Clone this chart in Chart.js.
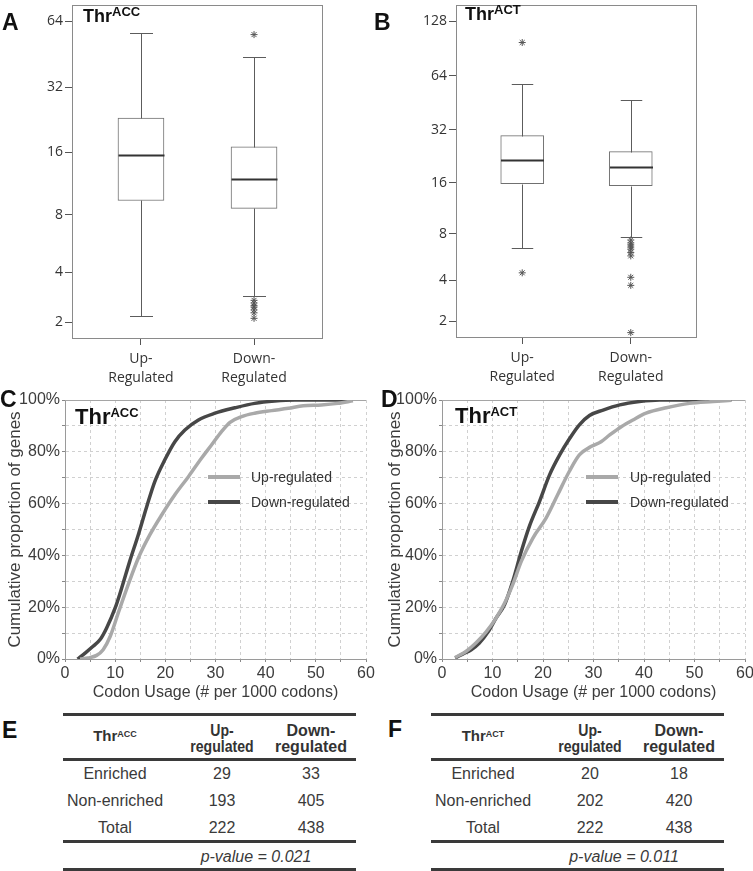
<!DOCTYPE html>
<html>
<head>
<meta charset="utf-8">
<script src="https://cdn.jsdelivr.net/npm/chart.js@4.4.1/dist/chart.umd.min.js"></script>
<style>
  html, body { margin: 0; padding: 0; background: #fff; }
  #page { position: relative; width: 753px; height: 871px; overflow: hidden;
          font-family: 'Liberation Sans', Arial, sans-serif; color: #333; }
  canvas { position: absolute; }
  .t { position: absolute; white-space: nowrap; line-height: 1; }
  .sup { position: relative; font-weight: bold; }
  .rule { position: absolute; height: 3px; background: #3a3a3a; }
  .leg { position: absolute; height: 4px; }
</style>
</head>
<body>
<div id="page">
  <canvas id="boxA" width="345" height="395" style="left:0;top:0"></canvas>
  <canvas id="boxB" width="373" height="395" style="left:380px;top:0"></canvas>
  <canvas id="cdfC" width="380" height="325" style="left:0;top:385px"></canvas>
  <canvas id="cdfD" width="373" height="325" style="left:380px;top:385px"></canvas>
</div>
<script>
'use strict';

// Boxplots A/B: je Kategorie [Up, Down]
const boxCats = [['Up-', 'Regulated'], ['Down-', 'Regulated']];

const ticksA = [2, 4, 8, 16, 32, 64];
const minA = [2.2, 2.93];
const q1A = [9.4, 8.6];
const medA = [15.6, 11.9];
const q3A = [23.1, 17.0];
const maxA = [56.6, 43.9];
const outUpA = [];
const outDownA = [55.6, 2.75, 2.65, 2.55, 2.5, 2.4, 2.3, 2.12];

const ticksB = [2, 4, 8, 16, 32, 64, 128];
const minB = [6.5, 7.6];
const q1B = [15.8, 15.4];
const medB = [21.6, 19.7];
const q3B = [29.7, 24.1];
const maxB = [57.8, 47.2];
const outUpB = [97.6, 4.5];
const outDownB = [7.3, 7.0, 6.8, 6.6, 6.4, 6.1, 5.8, 4.2, 3.7, 1.6];

// Kumulative Kurven C/D (x = Codon Usage, y = %)
const cUpX = [3.0, 4.6, 6.3, 7.6, 9.0, 10.6, 12.6, 14.6, 16.9, 19.3, 21.9, 24.6, 27.2, 29.2, 31.2, 32.9, 35.2, 37.8, 41.2, 44.5, 47.5, 51.1, 54.4, 57.4];
const cUpY = [0, 0.4, 1.4, 3.6, 8.7, 17.7, 28.7, 38.9, 47.9, 55.7, 63.4, 70.4, 77.5, 82.6, 87.8, 91.4, 93.6, 94.9, 95.9, 96.8, 97.8, 98.1, 98.7, 99.7];
const cDownX = [2.5, 4.0, 5.6, 7.0, 8.3, 10.0, 11.3, 12.9, 14.6, 16.3, 17.9, 19.9, 21.9, 23.9, 26.6, 29.9, 33.9, 37.8, 41.8, 45.8, 57.4];
const cDownY = [0, 2.3, 4.9, 7.5, 12, 19.7, 27.4, 37.7, 47.9, 58.9, 68.5, 76.9, 83.9, 88.4, 92.3, 94.9, 97.0, 98.7, 99.6, 100, 100];

const dUpX = [2.6, 4.8, 6.7, 8.7, 10.7, 12.4, 14.0, 15.7, 18.0, 20.6, 22.9, 25.2, 27.2, 29.5, 31.5, 33.2, 35.5, 37.8, 40.4, 44.4, 49.0, 53.7, 57.3];
const dUpY = [0.6, 3.0, 6.2, 10.4, 15.8, 21.6, 28.7, 37.7, 46.7, 54.4, 63.4, 72.4, 78.8, 82, 83.9, 86.5, 89.7, 92.3, 94.9, 97, 98.7, 99.4, 99.9];
const dDownX = [2.6, 4.1, 5.8, 7.4, 9.1, 10.7, 12.4, 14.0, 15.7, 17.3, 19.3, 21.3, 23.3, 25.3, 27.2, 29.2, 31.9, 35.2, 39.1, 43.1, 57.3];
const dDownY = [0.4, 1.9, 3.6, 6.2, 10.4, 15.8, 21, 29.9, 41.5, 51.2, 60.8, 71.1, 78.8, 85.2, 90.4, 94, 96.1, 98.1, 99.4, 100, 100];

// Tabellen E/F
const rowLabels = ['Enriched', 'Non-enriched', 'Total'];
const upE = [29, 193, 222];
const downE = [33, 405, 438];
const pE = '0.021';
const upF = [20, 202, 222];
const downF = [18, 420, 438];
const pF = '0.011';

const page = document.getElementById('page');

// Achse im Original ist log(x+1)
const T = v => Math.log2(v + 1);

function put(html, x, y, css, align, sx) {
  const el = document.createElement('div');
  el.className = 't';
  el.innerHTML = html;
  el.style.cssText = `left:${x}px;top:${y}px;` + (css || '');
  const tx = align === 'left' ? '0' : '-50%';
  el.style.transform = `translate(${tx},-50%)` + (sx ? ` scaleX(${sx})` : '');
  page.appendChild(el);
  return el;
}

const thr = (code, supSize, raise) =>
  `<b>Thr</b><span class="sup" style="font-size:${supSize}px;top:-${raise}px">${code}</span>`;

function boxChart(id, stats, outliers, tickVals, yRange, area) {
  const [mins, q1s, meds, q3s, maxs] = stats;

  const whiskers = {
    id: 'whiskers',
    afterDatasetsDraw(chart) {
      const { ctx, chartArea: a } = chart;
      const { x, y } = chart.scales;
      const py = v => Math.round(y.getPixelForValue(T(v))) + 0.5;
      ctx.save();
      boxCats.forEach((c, i) => {
        const px = Math.round(x.getPixelForValue(i + 1)) + 0.5;
        const half = area.boxW / 2;
        const cap = area.boxW / 4;
        ctx.strokeStyle = '#5c5c5c';
        ctx.lineWidth = 1;
        ctx.beginPath();
        ctx.moveTo(px, py(q3s[i]));
        ctx.lineTo(px, py(maxs[i]));
        ctx.moveTo(px, py(q1s[i]));
        ctx.lineTo(px, py(mins[i]));
        ctx.moveTo(px - cap, py(maxs[i]));
        ctx.lineTo(px + cap, py(maxs[i]));
        ctx.moveTo(px - cap, py(mins[i]));
        ctx.lineTo(px + cap, py(mins[i]));
        ctx.stroke();
        ctx.strokeStyle = '#333';
        ctx.lineWidth = 2;
        ctx.beginPath();
        ctx.moveTo(px - half, py(meds[i]));
        ctx.lineTo(px + half, py(meds[i]));
        ctx.stroke();
      });
      ctx.strokeStyle = '#8a8a8a';
      ctx.lineWidth = 1;
      ctx.strokeRect(a.left + 0.5, a.top + 0.5, a.right - a.left - 1, a.bottom - a.top - 1);
      ctx.restore();
    },
  };

  return new Chart(document.getElementById(id), {
    type: 'bar',
    data: {
      datasets: [
        {
          data: boxCats.map((c, i) => ({ x: i + 1, y: [T(q1s[i]), T(q3s[i])] })),
          backgroundColor: '#fff',
          borderColor: '#707070',
          borderWidth: 1,
          borderSkipped: false,
          barThickness: area.boxW,
        },
        {
          type: 'scatter',
          data: outliers.flatMap((vals, i) => vals.map(v => ({ x: i + 1, y: T(v) }))),
          pointStyle: 'star',
          pointRadius: 3.5,
          pointBorderColor: '#555',
          pointBorderWidth: 1,
        },
      ],
    },
    options: {
      responsive: false,
      animation: false,
      layout: { padding: { left: 0, right: area.padRight, top: area.top, bottom: 0 } },
      plugins: { legend: { display: false }, tooltip: { enabled: false } },
      scales: {
        x: {
          type: 'linear',
          min: 0.39,
          max: 2.61,
          offset: false,
          afterBuildTicks: s => {
            s.ticks = boxCats.map((c, i) => ({ value: i + 1 }));
          },
          afterFit: s => {
            s.height = area.xH;
            s.paddingLeft = 0;
            s.paddingRight = 0;
          },
          grid: { drawOnChartArea: false, offset: false, tickLength: 6, tickColor: '#555' },
          border: { display: false },
          ticks: {
            callback: (v, i) => boxCats[i],
            color: '#333',
            font: { family: 'Open Sans', size: 14, lineHeight: 1.35 },
            padding: 5,
            maxRotation: 0,
            autoSkip: false,
          },
        },
        y: {
          type: 'linear',
          min: yRange[0],
          max: yRange[1],
          beginAtZero: false,
          afterBuildTicks: s => {
            s.ticks = tickVals.map(v => ({ value: T(v) }));
          },
          afterFit: s => {
            s.width = area.yW;
            s.paddingTop = 0;
            s.paddingBottom = 0;
          },
          grid: { drawOnChartArea: false, tickLength: 7, tickColor: '#555' },
          border: { display: false },
          ticks: {
            callback: (v, i) => String(tickVals[i]),
            color: '#333',
            font: { family: 'Open Sans', size: 14 },
            padding: 2,
            autoSkip: false,
          },
        },
      },
    },
    plugins: [whiskers],
  });
}

function cdfChart(id, upX, upY, downX, downY, area) {
  const pts = (xs, ys) => xs.map((x, i) => ({ x, y: ys[i] }));
  const topLine = {
    id: 'topLine',
    beforeDatasetsDraw(chart) {
      const { ctx, chartArea: a } = chart;
      ctx.save();
      ctx.strokeStyle = '#a5a5a5';
      ctx.lineWidth = 1;
      ctx.beginPath();
      ctx.moveTo(a.left, a.top + 0.5);
      ctx.lineTo(a.right, a.top + 0.5);
      ctx.stroke();
      ctx.restore();
    },
  };
  const tickFont = { family: 'Liberation Sans', size: 16 };

  return new Chart(document.getElementById(id), {
    type: 'line',
    data: {
      datasets: [
        {
          label: 'Up-regulated',
          data: pts(upX, upY),
          borderColor: '#a9a9a9',
          borderWidth: 3.5,
          pointRadius: 0,
          cubicInterpolationMode: 'monotone',
        },
        {
          label: 'Down-regulated',
          data: pts(downX, downY),
          borderColor: '#474747',
          borderWidth: 3.5,
          pointRadius: 0,
          cubicInterpolationMode: 'monotone',
        },
      ],
    },
    options: {
      responsive: false,
      animation: false,
      layout: { padding: { left: 0, right: area.padRight, top: area.top, bottom: 0 } },
      plugins: { legend: { display: false }, tooltip: { enabled: false } },
      scales: {
        x: {
          type: 'linear',
          min: 0,
          max: 60,
          afterFit: s => {
            s.height = area.xH;
            s.paddingLeft = 0;
            s.paddingRight = 0;
          },
          ticks: {
            stepSize: 5,
            autoSkip: false,
            maxRotation: 0,
            callback: v => (v % 10 === 0 ? String(v) : ''),
            color: '#3c3c3c',
            font: tickFont,
            padding: 2,
          },
          grid: { color: '#d0d0d0', tickColor: '#888', tickLength: 3 },
          border: { color: '#9a9a9a', dash: [3, 3] },
          title: {
            display: true,
            text: 'Codon Usage (# per 1000 codons)',
            color: '#3c3c3c',
            font: { family: 'Liberation Sans', size: 16 },
            padding: { top: 4, bottom: 8 },
          },
        },
        y: {
          min: 0,
          max: 100,
          afterFit: s => {
            s.width = area.yW;
            s.paddingTop = 0;
            s.paddingBottom = 0;
          },
          ticks: {
            stepSize: 10,
            autoSkip: false,
            callback: v => (v % 20 === 0 ? v + '%' : ''),
            color: '#3c3c3c',
            font: tickFont,
            padding: 2,
          },
          grid: { color: '#d0d0d0', tickColor: '#888', tickLength: 3 },
          border: { color: '#9a9a9a', dash: [3, 3] },
          title: {
            display: true,
            text: 'Cumulative proportion of genes',
            color: '#3c3c3c',
            font: { family: 'Liberation Sans', size: 17 },
            padding: { top: 5, bottom: 4 },
          },
        },
      },
    },
    plugins: [topLine],
  });
}

function legend(x, yUp, yDown, textX) {
  [[yUp, '#a9a9a9', 'Up-regulated'], [yDown, '#474747', 'Down-regulated']].forEach(([y, col, txt]) => {
    const l = document.createElement('div');
    l.className = 'leg';
    l.style.cssText = `left:${x}px;top:${y - 2}px;width:32px;background:${col}`;
    page.appendChild(l);
    put(txt, textX, y, 'font-size:14px;color:#333', 'left');
  });
}

function table(x0, code, up, down, p) {
  const col = [x0 + 52, x0 + 159, x0 + 248];
  [714.3, 759.3, 841.7, 869.3].forEach(y => {
    const r = document.createElement('div');
    r.className = 'rule';
    r.style.cssText = `left:${x0}px;top:${Math.round(y - 1.5)}px;width:293px`;
    page.appendChild(r);
  });
  const head = 'font-weight:bold;font-size:16px;color:#333';
  const body = 'font-size:16px;color:#3a3a3a';
  put(thr(code, 9, 4), col[0], 735, 'font-size:15px;color:#333');
  put('Up-', col[1], 730.7, head, null, 0.88);
  put('regulated', col[1], 747, head, null, 0.88);
  put('Down-', col[2], 730.7, head);
  put('regulated', col[2], 747, head);
  const rowY = [774.3, 801, 828.3];
  rowLabels.forEach((r, i) => {
    put(r, col[0], rowY[i], body);
    put(String(up[i]), col[1], rowY[i], body);
    put(String(down[i]), col[2], rowY[i], body);
  });
  put(`<i>p-value = ${p}</i>`, x0 + 193, 856.7, body);
}

boxChart('boxA', [minA, q1A, medA, q3A, maxA], [outUpA, outDownA], ticksA, [1.337, 6.259],
  { top: 1, padRight: 22, yW: 72, xH: 56, boxW: 46 });
boxChart('boxB', [minB, q1B, medB, q3B, maxB], [outUpB, outDownB], ticksB, [1.281, 7.302],
  { top: 1, padRight: 56, yW: 76, xH: 57, boxW: 43 });
cdfChart('cdfC', cUpX, cUpY, cDownX, cDownY, { top: 15, padRight: 14, yW: 65, xH: 51 });
cdfChart('cdfD', dUpX, dUpY, dDownX, dDownY, { top: 15, padRight: 8, yW: 62, xH: 51 });

// Panel-Buchstaben und Titel
const letter = 'font-weight:bold;font-size:23px;color:#111';
put('A', 2, 21.5, letter, 'left');
put('B', 374, 21.5, letter, 'left');
put('C', 0, 399, letter, 'left');
put('D', 381, 399, letter, 'left');
put('E', 2, 730, letter, 'left');
put('F', 388, 728.5, letter, 'left');

put(thr('ACC', 13, 6), 83, 16, 'font-size:18px;color:#111', 'left');
put(thr('ACT', 13, 6), 465, 13.5, 'font-size:18px;color:#111', 'left');
put(thr('ACC', 13, 7), 75, 416.5, 'font-size:22px;color:#111', 'left');
put(thr('ACT', 13, 7), 455, 415.5, 'font-size:22px;color:#111', 'left');

legend(208, 476.7, 501.5, 251);
legend(586, 476.7, 501.7, 630);

table(63, 'ACC', upE, downE, pE);
table(431, 'ACT', upF, downF, pF);
</script>
</body>
</html>
